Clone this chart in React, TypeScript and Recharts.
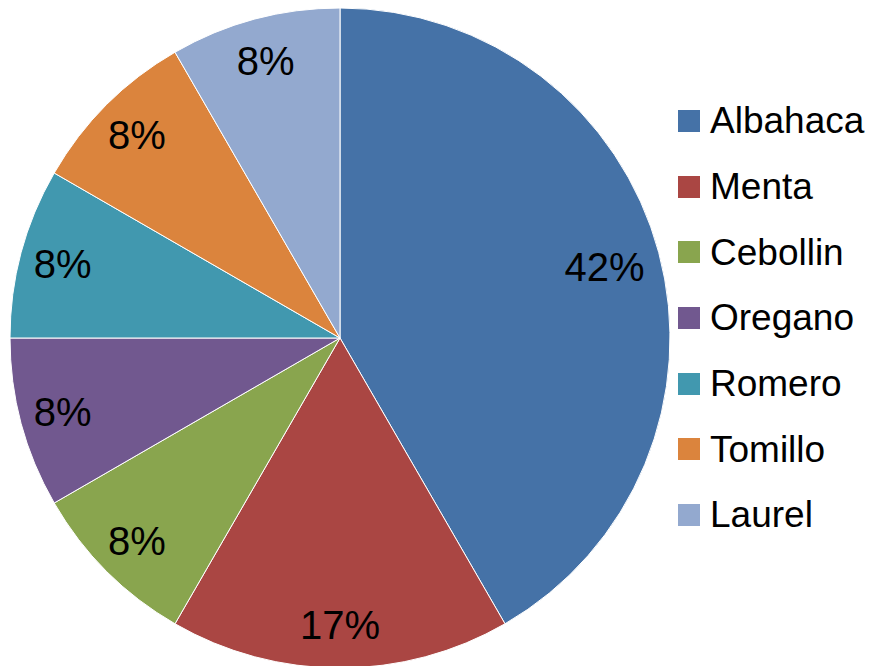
import { PieChart, Pie, Cell, Legend } from 'recharts';

const herbs = ['Albahaca', 'Menta', 'Cebollin', 'Oregano', 'Romero', 'Tomillo', 'Laurel'];
const counts = [5, 2, 1, 1, 1, 1, 1];
const colors = ['#4572A7', '#AA4643', '#89A54E', '#71588F', '#4198AF', '#DB843D', '#93A9CF'];

const data = herbs.map((name, i) => ({ name, value: counts[i] }));

const RAD = Math.PI / 180;

function renderLabel(props: any) {
  const { cx, cy, midAngle, outerRadius, percent } = props;
  // the big slice gets its label a bit further in, like Excel's best fit
  const r = outerRadius * (percent > 0.3 ? 0.83 : 0.87);
  const x = cx + r * Math.cos(-midAngle * RAD);
  const y = cy + r * Math.sin(-midAngle * RAD);
  return (
    <text
      x={x}
      y={y}
      fill="#000"
      textAnchor="middle"
      dominantBaseline="central"
      style={{ fontSize: '40px', fontFamily: '"Liberation Sans", Arial, sans-serif' }}
    >
      {`${Math.round(percent * 100)}%`}
    </text>
  );
}

function LegendList() {
  return (
    <div style={{ fontFamily: '"Liberation Sans", Arial, sans-serif' }}>
      {data.map((d, i) => (
        <div
          key={d.name}
          style={{ display: 'flex', alignItems: 'center', height: 65.7 }}
        >
          <div style={{ width: 22, height: 22, background: colors[i], marginRight: 10 }} />
          <span style={{ fontSize: '37px', color: '#000', lineHeight: '37px' }}>{d.name}</span>
        </div>
      ))}
    </div>
  );
}

export default function App() {
  return (
    <div style={{ position: 'absolute', left: 0, top: 0, width: 874, height: 666, background: '#fff' }}>
      <PieChart width={874} height={666} margin={{ top: 0, right: 0, bottom: 0, left: 0 }}>
        <Pie
          data={data}
          dataKey="value"
          nameKey="name"
          cx={340}
          cy={338}
          outerRadius={330}
          startAngle={90}
          endAngle={-270}
          stroke="#fff"
          strokeWidth={1}
          label={renderLabel}
          labelLine={false}
          isAnimationActive={false}
        >
          {data.map((d, i) => (
            <Cell key={d.name} fill={colors[i]} />
          ))}
        </Pie>
        <Legend
          content={() => <LegendList />}
          wrapperStyle={{ position: 'absolute', left: 678, top: 88, width: 196 }}
        />
      </PieChart>
    </div>
  );
}
